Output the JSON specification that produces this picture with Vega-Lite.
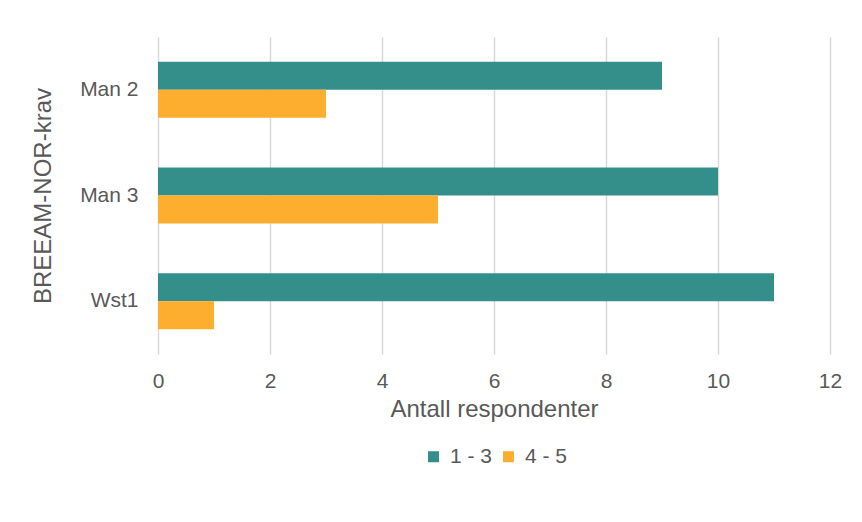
{
  "$schema": "https://vega.github.io/schema/vega-lite/v6.json",
  "width": 672,
  "height": 317,
  "autosize": {"type": "none"},
  "padding": {"left": 158, "top": 37, "right": 32, "bottom": 168},
  "background": "white",
  "config": {
    "view": {"stroke": null},
    "font": "Liberation Sans",
    "axis": {"labelColor": "#595959", "titleColor": "#595959", "labelFontSize": 21, "titleFontSize": 24, "titleFontWeight": "normal", "gridColor": "#D9D9D9", "gridWidth": 1.5, "domain": false, "ticks": false}
  },
  "data": {
    "values": [
      {"krav": "Man 2", "gruppe": "1 - 3", "antall": 9},
      {"krav": "Man 2", "gruppe": "4 - 5", "antall": 3},
      {"krav": "Man 3", "gruppe": "1 - 3", "antall": 10},
      {"krav": "Man 3", "gruppe": "4 - 5", "antall": 5},
      {"krav": "Wst1", "gruppe": "1 - 3", "antall": 11},
      {"krav": "Wst1", "gruppe": "4 - 5", "antall": 1}
    ]
  },
  "mark": {"type": "bar"},
  "encoding": {
    "y": {
      "field": "krav", "type": "nominal", "sort": ["Man 2", "Man 3", "Wst1"],
      "scale": {"paddingInner": 0.47, "paddingOuter": 0.235},
      "axis": {"title": "BREEAM-NOR-krav", "labelPadding": 20, "titlePadding": 24, "grid": false}
    },
    "yOffset": {"field": "gruppe", "type": "nominal", "sort": ["1 - 3", "4 - 5"]},
    "x": {
      "field": "antall", "type": "quantitative",
      "scale": {"domain": [0, 12], "nice": false},
      "axis": {"title": "Antall respondenter", "values": [0, 2, 4, 6, 8, 10, 12], "labelFlush": false, "labelPadding": 16, "titlePadding": 6, "grid": true}
    },
    "color": {
      "field": "gruppe", "type": "nominal",
      "scale": {"domain": ["1 - 3", "4 - 5"], "range": ["#348F8B", "#FDAE2E"]},
      "legend": {"title": null, "orient": "none", "legendX": 265, "legendY": 409, "direction": "horizontal", "symbolType": "square", "symbolSize": 121, "labelFontSize": 21, "labelColor": "#595959", "columnPadding": 5, "labelOffset": 6, "symbolStrokeWidth": 0}
    }
  }
}
